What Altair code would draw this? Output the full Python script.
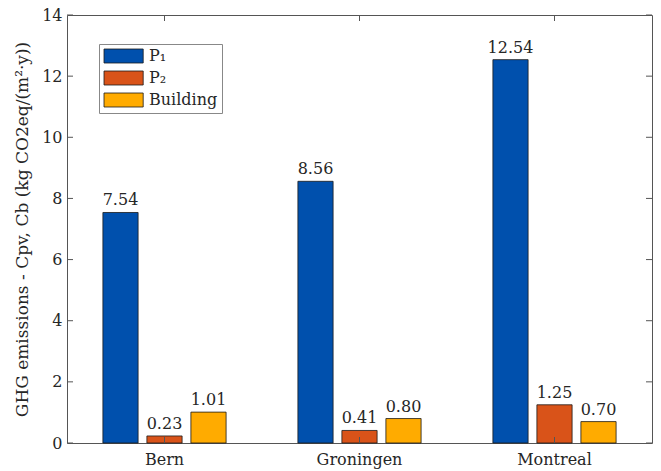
import altair as alt
import pandas as pd

cities = ["Bern", "Groningen", "Montreal"]
series = ["P₁", "P₂", "Building"]
p1 = [7.54, 8.56, 12.54]
p2 = [0.23, 0.41, 1.25]
building = [1.01, 0.80, 0.70]
colors = ["#0050AD", "#D95319", "#FFAB00"]
y_ticks = [0, 2, 4, 6, 8, 10, 12, 14]

rows = []
for i, c in enumerate(cities):
    for s, vals in zip(series, [p1, p2, building]):
        rows.append({"city": c, "series": s, "value": vals[i]})
df = pd.DataFrame(rows)
ytick_df = pd.DataFrame({"v": y_ticks})
xtick_df = pd.DataFrame({"city": cities})

W, H = 585, 428
FONT = "DejaVu Serif"
FS = 16

xscale = alt.Scale(domain=cities, paddingInner=0, paddingOuter=0)
yscale = alt.Scale(domain=[0, 14], nice=False)
off_scale = alt.Scale(domain=series, paddingInner=0.2, paddingOuter=0.816)

bars = alt.Chart(df).mark_bar(stroke="#1a1a1a", strokeWidth=0.8).encode(
    x=alt.X("city:N", scale=xscale, sort=cities,
            axis=alt.Axis(title=None, labelAngle=0, ticks=False, domain=False,
                          labelFont=FONT, labelFontSize=FS, labelColor="#262626",
                          labelPadding=8)),
    xOffset=alt.XOffset("series:N", scale=off_scale, sort=series),
    y=alt.Y("value:Q", scale=yscale,
            axis=alt.Axis(values=y_ticks, ticks=False, domain=False, grid=False,
                          labelFont=FONT, labelFontSize=FS, labelColor="#262626",
                          labelPadding=5,
                          title="GHG emissions - Cpv, Cb (kg CO2eq/(m²·y))",
                          titleFont=FONT, titleFontSize=17, titleFontWeight="normal",
                          titleColor="#262626", titlePadding=10)),
    color=alt.Color("series:N", sort=series,
                    scale=alt.Scale(domain=series, range=colors),
                    legend=alt.Legend(title=None, orient="none", legendX=32, legendY=29,
                                      symbolType="M-1,-1H4.6V1H-1Z", symbolSize=196,
                                      symbolStrokeColor="#1a1a1a", symbolStrokeWidth=0.8,
                                      symbolOpacity=1, labelOffset=30,
                                      labelFont=FONT, labelFontSize=FS, labelColor="#262626",
                                      labelFontWeight="normal",
                                      strokeColor="#888", fillColor="white",
                                      padding=4, rowPadding=4)),
)

labels = alt.Chart(df).mark_text(baseline="bottom", dy=-4, font=FONT, fontSize=FS,
                                 color="#262626").encode(
    x=alt.X("city:N", scale=xscale, sort=cities),
    xOffset=alt.XOffset("series:N", scale=off_scale, sort=series),
    y=alt.Y("value:Q", scale=yscale),
    text=alt.Text("value:Q", format=".2f"),
)

ytl = alt.Chart(ytick_df).mark_rule(color="#555", strokeWidth=1).encode(
    y=alt.Y("v:Q", scale=yscale), x=alt.value(0), x2=alt.value(6))
ytr = alt.Chart(ytick_df).mark_rule(color="#555", strokeWidth=1).encode(
    y=alt.Y("v:Q", scale=yscale), x=alt.value(W - 6), x2=alt.value(W))
xtb = alt.Chart(xtick_df).mark_rule(color="#555", strokeWidth=1).encode(
    x=alt.X("city:N", scale=xscale, sort=cities), y=alt.value(H - 6), y2=alt.value(H))
xtt = alt.Chart(xtick_df).mark_rule(color="#555", strokeWidth=1).encode(
    x=alt.X("city:N", scale=xscale, sort=cities), y=alt.value(0), y2=alt.value(6))

chart = alt.layer(bars, labels, ytl, ytr, xtb, xtt).properties(
    width=W, height=H,
    autosize=alt.AutoSizeParams(type="none"),
    padding={"left": 67, "top": 15, "right": 9, "bottom": 28},
    background="white",
).configure_view(stroke="#555", strokeWidth=1)

chart.save("out.html", embed_options={"renderer": "svg", "actions": False})
